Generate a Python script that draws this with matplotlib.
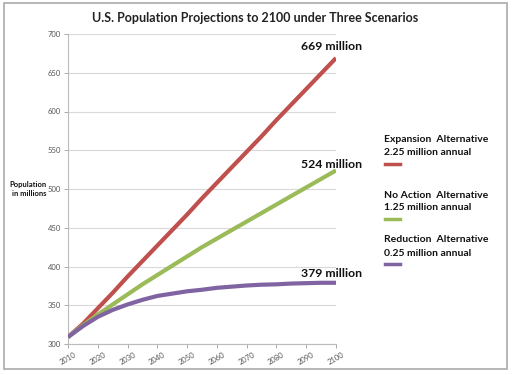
import matplotlib
matplotlib.use('Agg')
import matplotlib.pyplot as plt
from matplotlib.patches import Rectangle

# Dados (milhões de habitantes)
anos = [2010, 2015, 2020, 2025, 2030, 2035, 2040, 2045, 2050, 2055,
        2060, 2065, 2070, 2075, 2080, 2085, 2090, 2095, 2100]
expansao = [309, 326, 346, 366, 387, 407, 427, 447, 467, 488,
            508, 528, 548, 568, 589, 609, 629, 649, 669]
sem_acao = [309, 324, 338, 351, 364, 377, 389, 401, 413, 425,
            436, 447, 458, 469, 480, 491, 502, 513, 524]
reducao = [309, 323, 335, 344, 351, 357, 362, 365, 368, 370,
           372.5, 374, 375.5, 376.5, 377, 378, 378.5, 379, 379]

anos_ticks = list(range(2010, 2101, 10))
pop_ticks = list(range(300, 701, 50))

nomes = ['Expansion  Alternative', 'No Action  Alternative', 'Reduction  Alternative']
taxas = ['2.25 million annual', '1.25 million annual', '0.25 million annual']
rotulos_finais = ['669 million', '524 million', '379 million']
cores = ['#C0504D', '#9BBB59', '#8064A2']

plt.rcParams['font.family'] = ['Lato', 'DejaVu Sans']

fig = plt.figure(figsize=(5.12, 3.75), dpi=100)
ax = fig.add_axes([68 / 512, 1 - 344 / 375, 268 / 512, 310 / 375])

series = [expansao, sem_acao, reducao]
for valores, cor in zip(series, cores):
    ax.plot(anos, valores, color=cor, linewidth=3.0, solid_capstyle='butt', zorder=3)

ax.set_xlim(2010, 2100)
ax.set_ylim(300, 700)
ax.set_xticks(anos_ticks)
ax.set_yticks(pop_ticks)
ax.set_xticklabels([str(a) for a in anos_ticks], rotation=30, fontsize=5.5, color='#555555')
ax.set_yticklabels([str(p) for p in pop_ticks], fontsize=5.5, color='#555555')
ax.tick_params(axis='both', length=3, width=0.7, color='#aaaaaa', pad=2)
ax.grid(axis='y', color='#d9d9d9', linewidth=0.8)
ax.set_axisbelow(True)
for lado in ['top', 'right']:
    ax.spines[lado].set_visible(False)
for lado in ['left', 'bottom']:
    ax.spines[lado].set_color('#bbbbbb')
    ax.spines[lado].set_linewidth(0.8)

# Rótulos no fim das linhas (deslocamento em pontos)
pos_y = [669, 524, 379]
desloc = [8, 4.5, 7]
for texto, y, d in zip(rotulos_finais, pos_y, desloc):
    ax.annotate(texto, xy=(2098.5, y), xytext=(0, d), textcoords='offset points',
                ha='center', va='center', fontsize=8.8, fontweight='bold', color='#111111')

# Título e eixo
fig.text(255 / 512, 1 - 18 / 375, 'U.S. Population Projections to 2100 under Three Scenarios',
         ha='center', va='center', fontsize=9, fontweight='bold', color='#222222')
fig.text(47 / 512, 1 - 189 / 375, 'Population\nin millions', ha='right', va='center',
         fontsize=5.5, fontweight='bold', color='#111111', linespacing=1.3)

# Legenda manual à direita
legenda_y = [140, 195, 240]
for nome, taxa, cor, y in zip(nomes, taxas, cores, legenda_y):
    fig.text(384 / 512, 1 - y / 375, nome, ha='left', va='center', fontsize=7.5,
             fontweight='bold', color='#111111')
    fig.text(384 / 512, 1 - (y + 13) / 375, taxa, ha='left', va='center', fontsize=7.5,
             fontweight='bold', color='#111111')
    fig.add_artist(plt.Line2D([385 / 512, 400 / 512], [1 - (y + 24) / 375] * 2,
                              color=cor, linewidth=2.5, transform=fig.transFigure))

# Moldura
fig.add_artist(Rectangle((4 / 512, 1 - 369 / 375), 503 / 512, 366 / 375, fill=False,
                         edgecolor='#aaaaaa', linewidth=1.2, transform=fig.transFigure))

fig.savefig('out.png', dpi=100)
